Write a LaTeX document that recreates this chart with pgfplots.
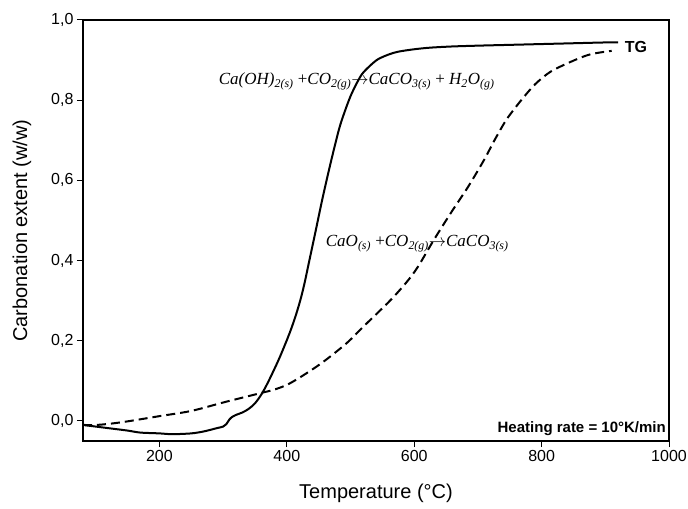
\documentclass[border=0pt]{standalone}
\usepackage{fontspec}
\setmainfont{Liberation Sans}
\newfontfamily\eqfont{Liberation Serif}
\usepackage{pgfplots}
\pgfplotsset{compat=1.18}

\begin{document}
\begin{tikzpicture}
\begin{axis}[
  scale only axis,
  width=586pt, height=421pt,
  xmin=80, xmax=1000,
  ymin=-0.05, ymax=1.0,
  xtick={200,400,600,800,1000},
  ytick={0,0.2,0.4,0.6,0.8,1.0},
  tick align=outside,
  xtick pos=left, ytick pos=left,
  major tick length=6pt,
  axis line style={line width=1.2pt},
  every tick/.style={black, line width=1pt},
  tick label style={font=\fontsize{16}{18}\selectfont},
  /pgf/number format/assume math mode=true,
  yticklabel style={/pgf/number format/.cd, fixed, fixed zerofill, precision=1, use comma},
  xticklabel style={/pgf/number format/.cd, fixed, precision=0, 1000 sep={}},
  xlabel={Temperature (°C)},
  ylabel={Carbonation extent (w/w)},
  label style={font=\fontsize{20}{24}\selectfont},
  xlabel style={at={(axis description cs:0.5,-0.1235)}, anchor=center},
  ylabel style={at={(axis description cs:-0.1041,0.5)}, anchor=center},
]
% TG curve, Ca(OH)2
\addplot[black, line width=2pt, smooth] coordinates {
  (80,-0.010) (100,-0.014) (120,-0.018) (150,-0.024) (170,-0.029)
  (200,-0.031) (220,-0.033) (250,-0.031) (270,-0.026) (290,-0.018)
  (300,-0.014) (305,-0.008) (310,0.004) (315,0.011) (320,0.015)
  (330,0.021) (340,0.030) (350,0.044) (360,0.066) (370,0.095)
  (385,0.145) (395,0.182) (406,0.226) (415,0.268) (422,0.306)
  (428,0.345) (434,0.390) (445,0.472) (456,0.555) (469,0.645)
  (482,0.728) (491,0.772) (500,0.810) (509,0.840) (518,0.865)
  (530,0.885) (543,0.902) (560,0.914) (575,0.921) (600,0.927)
  (625,0.931) (660,0.934) (700,0.936) (750,0.938) (800,0.940)
  (850,0.942) (900,0.944) (920,0.944)
};
% CaO curve
\addplot[black, line width=2pt, smooth, dash pattern=on 9pt off 5pt] coordinates {
  (80,-0.010) (100,-0.010) (122,-0.007) (150,-0.001) (200,0.012)
  (250,0.025) (300,0.046) (340,0.062) (360,0.070) (380,0.078)
  (400,0.090) (420,0.108) (448,0.137) (470,0.163) (496,0.197)
  (520,0.235) (548,0.278) (568,0.310) (590,0.350) (606,0.385)
  (631,0.452) (658,0.520) (685,0.585) (710,0.652) (726,0.700)
  (745,0.752) (768,0.800) (790,0.840) (815,0.872) (852,0.900)
  (878,0.915) (910,0.923)
};
\node[anchor=west, font=\bfseries\fontsize{16}{18}\selectfont] at (axis cs:925,0.932) {TG};
\node[anchor=base east, font=\bfseries\fontsize{15}{18}\selectfont, inner sep=0pt]
  at (rel axis cs:1,0) [xshift=-3pt, yshift=9pt] {Heating rate = 10°K/min};
\node[anchor=west, inner sep=0pt, font=\eqfont\itshape\fontsize{17}{20}\selectfont]
  at (axis cs:293,0.8475)
  {Ca(OH)\textsubscript{2(s)} \upshape{+}\itshape CO\textsubscript{2(g)}$\rightarrow$CaCO\textsubscript{3(s)} \upshape{+} \itshape H\textsubscript{2}O\textsubscript{(g)}};
\node[anchor=west, inner sep=0pt, font=\eqfont\itshape\fontsize{17}{20}\selectfont]
  at (axis cs:461,0.4425)
  {CaO\textsubscript{(s)} \upshape{+}\itshape CO\textsubscript{2(g)}$\rightarrow$CaCO\textsubscript{3(s)}};
\coordinate (ll) at (rel axis cs:0,0);
\coordinate (ur) at (rel axis cs:1,1);
\end{axis}
\pgfresetboundingbox
\path ([shift={(-83pt,-67pt)}]ll) rectangle ([shift={(19pt,20pt)}]ur);
\end{tikzpicture}
\end{document}
